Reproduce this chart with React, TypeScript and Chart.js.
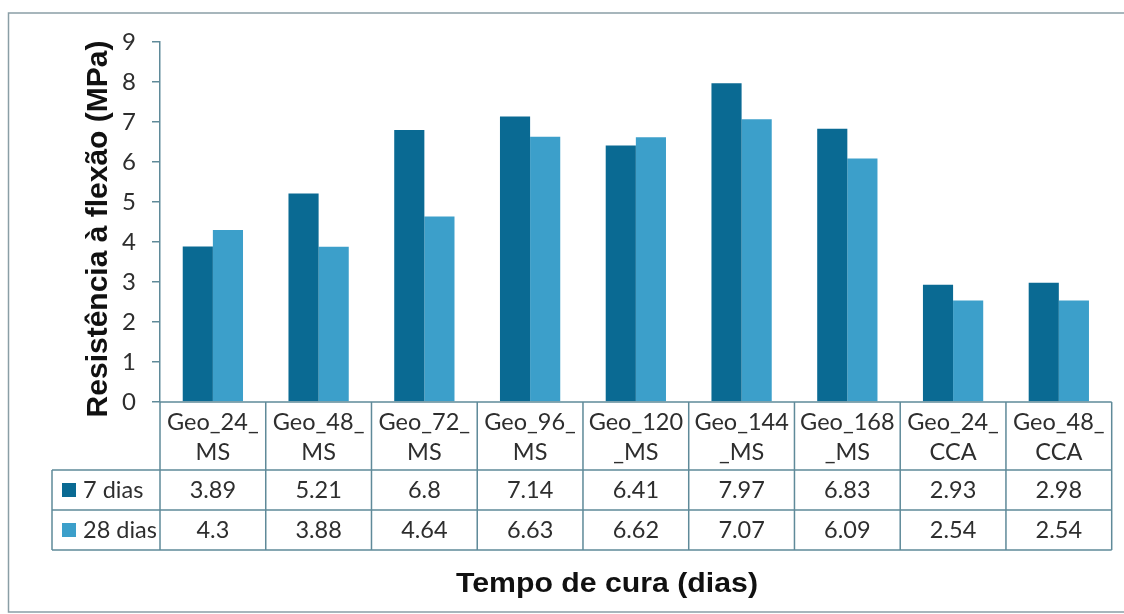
import React, { useEffect, useRef } from 'react';
import { Chart, registerables } from 'chart.js';

Chart.register(...registerables);

// ---- Data ----
const categoryLines: string[][] = [
  ['Geo_24_', 'MS'],
  ['Geo_48_', 'MS'],
  ['Geo_72_', 'MS'],
  ['Geo_96_', 'MS'],
  ['Geo_120', '_MS'],
  ['Geo_144', '_MS'],
  ['Geo_168', '_MS'],
  ['Geo_24_', 'CCA'],
  ['Geo_48_', 'CCA'],
];
const categories = categoryLines.map((l) => l.join(''));
const seriesNames = ['7 dias', '28 dias'];
const values7 = [3.89, 5.21, 6.8, 7.14, 6.41, 7.97, 6.83, 2.93, 2.98];
const values28 = [4.3, 3.88, 4.64, 6.63, 6.62, 7.07, 6.09, 2.54, 2.54];
const yMin = 0;
const yMax = 9;
const yStep = 1;
const yTitle = 'Resistência à flexão (MPa)';
const xTitle = 'Tempo de cura (dias)';

// ---- Styles ----
const DARK = '#0A6A93';
const LIGHT = '#3C9FCA';
const LINE = '#5f8a99';
const TEXT = '#2e2e2e';
const TABLE_FONT = 'Lato, "Open Sans", sans-serif';

const tablePlugin = {
  id: 'dataTablePlugin',
  afterDraw(chart: any) {
    const { ctx, chartArea, scales } = chart;
    const xs = scales.x;
    const left = chartArea.left;
    const right = chartArea.right;
    const top = chartArea.bottom;
    const hdrBottom = 470;
    const row1Bottom = 510;
    const row2Bottom = 550;
    const legLeft = 52;
    const n = categories.length;
    const cw = (right - left) / n;

    ctx.save();
    // outer border
    ctx.strokeStyle = '#8a9ea6';
    ctx.lineWidth = 1.5;
    ctx.beginPath();
    ctx.moveTo(1124, 13);
    ctx.lineTo(8.5, 13);
    ctx.lineTo(8.5, 612);
    ctx.lineTo(1124, 612);
    ctx.stroke();

    // table lines
    ctx.strokeStyle = LINE;
    ctx.lineWidth = 1.5;
    ctx.beginPath();
    ctx.moveTo(left, top);
    ctx.lineTo(right, top);
    [hdrBottom, row1Bottom, row2Bottom].forEach((y) => {
      ctx.moveTo(legLeft, y);
      ctx.lineTo(right, y);
    });
    for (let i = 0; i <= n; i++) {
      const x = left + i * cw;
      ctx.moveTo(x, top);
      ctx.lineTo(x, row2Bottom);
    }
    ctx.moveTo(legLeft, hdrBottom);
    ctx.lineTo(legLeft, row2Bottom);
    ctx.stroke();

    // header text
    ctx.fillStyle = TEXT;
    ctx.font = `23.5px ${TABLE_FONT}`;
    ctx.textAlign = 'center';
    ctx.textBaseline = 'middle';
    categoryLines.forEach((lines, i) => {
      const cx = xs.getPixelForValue(i);
      ctx.fillText(lines[0], cx, 422);
      ctx.fillText(lines[1], cx, 452);
    });
    // values
    const rows = [values7, values28];
    const rowCenters = [490, 530];
    rows.forEach((vals, r) => {
      vals.forEach((v, i) => {
        const cx = xs.getPixelForValue(i);
        ctx.fillText(String(v), cx, rowCenters[r]);
      });
    });
    // legend keys
    const colors = [DARK, LIGHT];
    ctx.textAlign = 'left';
    seriesNames.forEach((name, r) => {
      ctx.fillStyle = colors[r];
      ctx.fillRect(62, rowCenters[r] - 7, 14, 14);
      ctx.fillStyle = TEXT;
      ctx.fillText(name, 83, rowCenters[r]);
    });

    // y title
    ctx.fillStyle = '#111111';
    ctx.font = 'bold 30px "Liberation Sans", Arial, sans-serif';
    ctx.textAlign = 'center';
    ctx.textBaseline = 'alphabetic';
    ctx.save();
    ctx.translate(107, 229);
    ctx.rotate(-Math.PI / 2);
    ctx.fillText(yTitle, 0, 0);
    ctx.restore();

    // x title
    ctx.font = 'bold 28px "Liberation Sans", Arial, sans-serif';
    ctx.save();
    ctx.translate(607, 592);
    ctx.scale(1.08, 1);
    ctx.fillText(xTitle, 0, 0);
    ctx.restore();

    ctx.restore();
  },
};

export default function App() {
  const ref = useRef<HTMLCanvasElement | null>(null);

  useEffect(() => {
    if (!ref.current) return;
    const chart = new Chart(ref.current, {
      type: 'bar',
      data: {
        labels: categories,
        datasets: [
          {
            label: seriesNames[0],
            data: values7,
            backgroundColor: DARK,
            borderWidth: 0,
            categoryPercentage: 0.57,
            barPercentage: 1,
          },
          {
            label: seriesNames[1],
            data: values28,
            backgroundColor: LIGHT,
            borderWidth: 0,
            categoryPercentage: 0.57,
            barPercentage: 1,
          },
        ],
      },
      options: {
        responsive: false,
        maintainAspectRatio: false,
        devicePixelRatio: 1,
        animation: false,
        layout: { padding: { top: 42, bottom: 212, right: 12.3, left: 0 } },
        plugins: {
          legend: { display: false },
          tooltip: { enabled: false },
          title: { display: false },
        },
        scales: {
          x: { display: false },
          y: {
            min: yMin,
            max: yMax,
            afterFit: (s: any) => {
              s.width = 160;
            },
            ticks: {
              stepSize: yStep,
              color: TEXT,
              padding: 16,
              font: { family: TABLE_FONT, size: 24 },
            },
            grid: {
              display: true,
              drawOnChartArea: false,
              drawTicks: true,
              tickLength: 8,
              color: LINE,
              lineWidth: 1.5,
            },
            border: { display: true, color: LINE, width: 1.5 },
          },
        },
      },
      plugins: [tablePlugin],
    });
    return () => chart.destroy();
  }, []);

  return (
    <div style={{ position: 'fixed', left: 0, top: 0, width: 1124, height: 614, background: '#ffffff' }}>
      <canvas ref={ref} width={1124} height={614} style={{ display: 'block' }} />
    </div>
  );
}
